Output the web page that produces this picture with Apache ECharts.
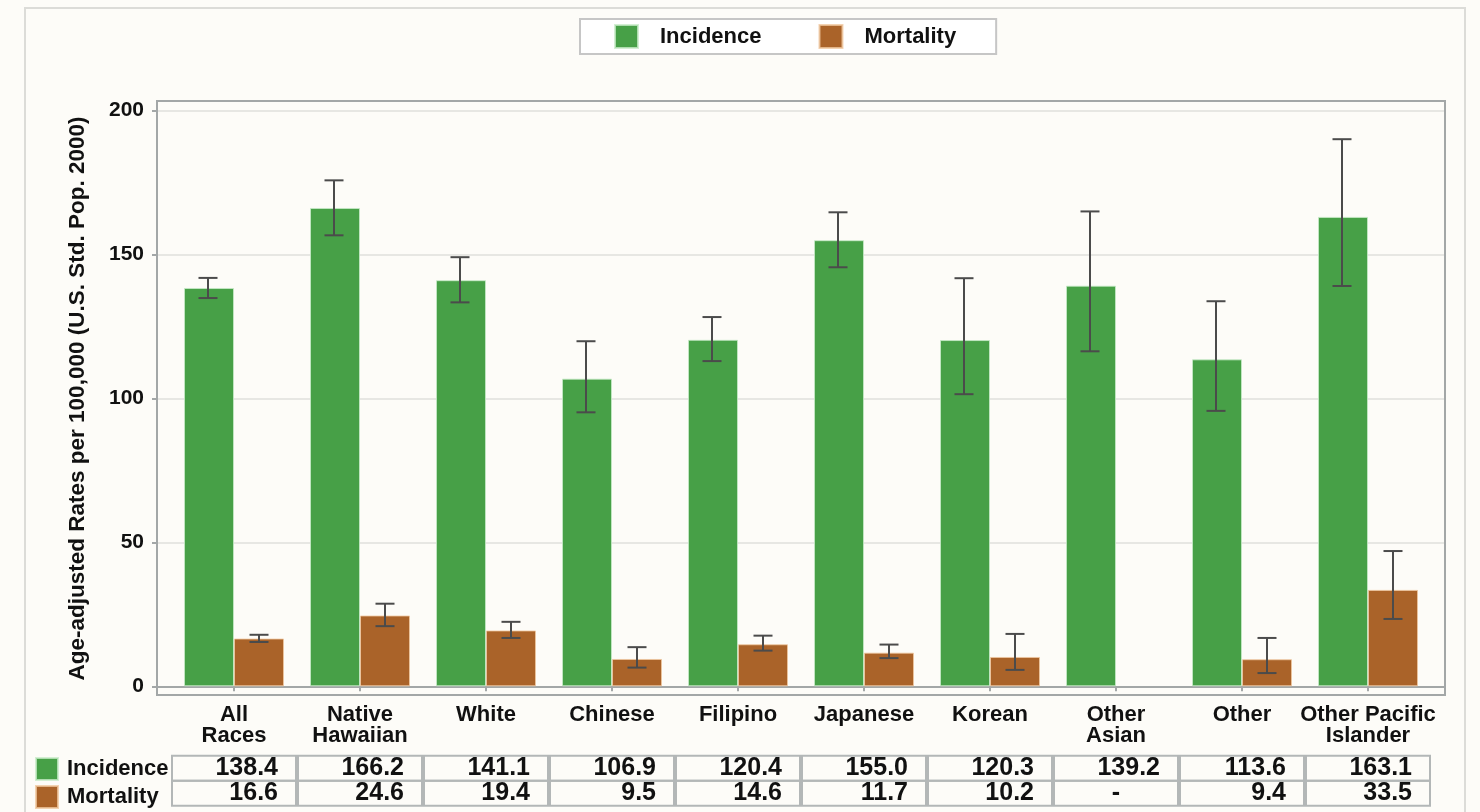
<!DOCTYPE html>
<html>
<head>
<meta charset="utf-8">
<script src="https://cdn.jsdelivr.net/npm/echarts@6/dist/echarts.min.js"></script>
<style>
html,body{margin:0;padding:0;background:#fdfcf8;}
#c{width:1480px;height:812px;}
</style>
</head>
<body>
<div id="c"></div>
<script>
const categories = ['All\nRaces','Native\nHawaiian','White','Chinese','Filipino','Japanese','Korean','Other\nAsian','Other','Other Pacific\nIslander'];
const incidence = [138.4,166.2,141.1,106.9,120.4,155.0,120.3,139.2,113.6,163.1];
const incidenceLow = [134.9,156.7,133.4,95.2,113.0,145.6,101.5,116.4,95.7,139.1];
const incidenceHigh = [141.9,175.8,149.1,119.9,128.3,164.7,141.8,165.0,133.8,190.1];
const mortality = [16.6,24.6,19.4,9.5,14.6,11.7,10.2,null,9.4,33.5];
const mortalityLow = [15.4,20.9,16.8,6.5,12.4,9.8,5.7,null,4.6,23.4];
const mortalityHigh = [17.9,28.7,22.4,13.6,17.6,14.5,18.2,null,16.8,47.0];
const yTicks = [0,50,100,150,200];
const seriesNames = ['Incidence','Mortality'];

const FONT = "'Liberation Sans', Arial, sans-serif";
const GREEN = '#47a047', BROWN = '#aa6329';
const FRAME = '#a3a7a7';

function errBars(low, high) {
  return low.map((l, i) => (l == null ? [i, '-', '-'] : [i, l, high[i]]));
}
function makeErr(name, low, high, off) {
  return {
    type: 'custom', xAxisIndex: 0, yAxisIndex: 0, z: 10, silent: true,
    name: name + ' CI',
    data: errBars(low, high),
    encode: { x: 0, y: [1, 2] },
    renderItem: function (params, api) {
      const lv = api.value(1), hv = api.value(2);
      if (lv === '-' || hv === '-' || isNaN(lv) || isNaN(hv)) return null;
      const lo = api.coord([api.value(0), lv]);
      const hi = api.coord([api.value(0), hv]);
      const bw = api.size([1, 0])[0];
      const cx = lo[0] + off * bw;
      const cap = 9.5;
      const st = { stroke: '#4b4b4b', lineWidth: 2 };
      return {
        type: 'group',
        children: [
          { type: 'line', shape: { x1: cx, y1: lo[1], x2: cx, y2: hi[1] }, style: st },
          { type: 'line', shape: { x1: cx - cap, y1: lo[1], x2: cx + cap, y2: lo[1] }, style: st },
          { type: 'line', shape: { x1: cx - cap, y1: hi[1], x2: cx + cap, y2: hi[1] }, style: st }
        ]
      };
    }
  };
}

const cellBase = { height: 25, lineHeight: 25, borderColor: '#b3b7b7', borderWidth: 2,
                   fontFamily: FONT, fontSize: 25, fontWeight: 'bold', color: '#111' };

const chart = echarts.init(document.getElementById('c'), null, { renderer: 'canvas' });
const option = {
  backgroundColor: '#fdfcf8',
  animation: false,
  textStyle: { fontFamily: FONT },
  legend: [
    {
      data: seriesNames, selectedMode: false,
      left: 580, top: 19, orient: 'horizontal',
      itemWidth: 23, itemHeight: 23, itemGap: 57,
      padding: [5, 40, 5, 34],
      borderColor: '#c6c6c6', borderWidth: 2, backgroundColor: '#ffffff',
      icon: 'rect',
      textStyle: { fontFamily: FONT, fontSize: 22, fontWeight: 'bold', color: '#111', padding: [0, 0, 0, 17] }
    },
    {
      data: seriesNames, selectedMode: false,
      left: 35, top: 757, orient: 'vertical',
      itemWidth: 22, itemHeight: 22, itemGap: 4,
      padding: 0,
      icon: 'rect',
      textStyle: { fontFamily: FONT, fontSize: 22, fontWeight: 'bold', color: '#111', padding: [0, 0, 0, 4] }
    }
  ],
  grid: [
    { left: 171, right: 49, top: 110.7, bottom: 125.7, outerBoundsMode: 'none', containLabel: false },
    { left: 157, right: 35, top: 110.7, bottom: 125.7, outerBoundsMode: 'none', containLabel: false }
  ],
  xAxis: [
    {
      type: 'category', gridIndex: 0, data: categories, position: 'bottom', offset: 9,
      axisLine: { show: false },
      axisTick: { show: true, alignWithLabel: true, length: 5, lineStyle: { color: FRAME, width: 2 } },
      axisLabel: { interval: 0, margin: 9, fontFamily: FONT, fontSize: 22, fontWeight: 'bold', color: '#111', lineHeight: 21 },
      splitLine: { show: false }
    },
    {
      type: 'category', gridIndex: 0, data: categories, position: 'bottom', offset: 59.5,
      axisLine: { show: false }, axisTick: { show: false }, splitLine: { show: false },
      axisLabel: {
        interval: 0, margin: 10,
        formatter: function (v, i) {
          const m = mortality[i];
          const mt = m == null ? '{d|-}' : '{m|' + m.toFixed(1) + '}';
          return '{i|' + incidence[i].toFixed(1) + '}\n' + mt;
        },
        rich: {
          i: Object.assign({ width: 106, align: 'right', padding: [0, 18, 0, 0] }, cellBase),
          m: Object.assign({ width: 106, align: 'right', padding: [0, 18, 0, 0] }, cellBase),
          d: Object.assign({ width: 124, align: 'center' }, cellBase)
        }
      }
    },
    {
      type: 'value', gridIndex: 1, min: 0, max: 1, show: true,
      axisLine: { show: true, onZero: true, lineStyle: { color: FRAME, width: 2 } },
      axisTick: { show: false }, axisLabel: { show: false }, splitLine: { show: false }
    }
  ],
  yAxis: [
    { type: 'value', gridIndex: 0, min: 0, max: 200, interval: 50, show: false, splitLine: { show: false } },
    {
      type: 'value', gridIndex: 1, min: 0, max: 200, interval: 50,
      name: 'Age-adjusted Rates per 100,000 (U.S. Std. Pop. 2000)',
      nameLocation: 'middle', nameGap: 68, nameRotate: 90,
      nameTextStyle: { fontFamily: FONT, fontSize: 22.5, fontWeight: 'bold', color: '#111' },
      axisLine: { show: false },
      axisTick: { show: true, length: 5, lineStyle: { color: FRAME, width: 2 } },
      axisLabel: { margin: 13, fontFamily: FONT, fontSize: 21, fontWeight: 'bold', color: '#111',
                   formatter: function (v) { return yTicks.indexOf(v) >= 0 ? String(v) : ''; } },
      splitLine: { show: true, lineStyle: { color: '#e7e7e3', width: 2 } }
    }
  ],
  graphic: [
    { type: 'rect', z: -1, shape: { x: 25, y: 8, width: 1440, height: 830 }, style: { fill: 'none', stroke: '#dcdcd8', lineWidth: 2 } },
    { type: 'rect', z: 5, silent: true, shape: { x: 157, y: 101, width: 1288, height: 594 }, style: { fill: 'none', stroke: FRAME, lineWidth: 2 } }
  ],
  series: [
    {
      name: 'Incidence', type: 'bar', xAxisIndex: 0, yAxisIndex: 0, data: incidence,
      barWidth: 50, barGap: '0%', z: 3,
      itemStyle: { color: GREEN, borderColor: 'rgba(200,235,200,0.8)', borderWidth: 1 }
    },
    {
      name: 'Mortality', type: 'bar', xAxisIndex: 0, yAxisIndex: 0, data: mortality.map(v => v == null ? '-' : v),
      barWidth: 50, barGap: '0%', z: 3,
      itemStyle: { color: BROWN, borderColor: 'rgba(240,200,160,0.8)', borderWidth: 1 }
    },
    makeErr('Incidence', incidenceLow, incidenceHigh, -26 / 126),
    makeErr('Mortality', mortalityLow, mortalityHigh, 25 / 126)
  ]
};
chart.setOption(option);
</script>
</body>
</html>
